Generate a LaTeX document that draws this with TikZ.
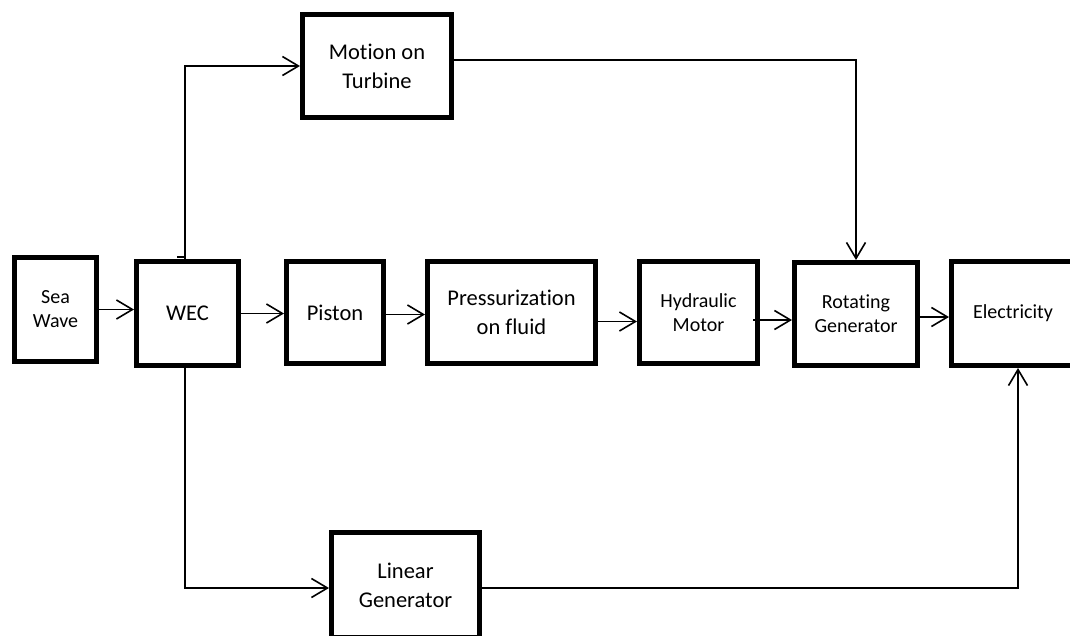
\documentclass[tikz,border=0pt]{standalone}
\usepackage{fontspec}
\setmainfont[Ligatures=NoCommon]{Carlito}
\usetikzlibrary{arrows.meta,calc}
\tikzset{
  box/.style={draw, line width=5pt, rectangle, align=center, inner sep=0pt},
  bigtext/.style={font=\fontsize{22.5}{29}\selectfont},
  smalltext/.style={font=\fontsize{20}{24}\selectfont},
  conn/.style={line width=1.6pt},
  arr/.style={conn, -{Straight Barb[length=16pt,width=19pt,line width=1.6pt]}}
}
\begin{document}
\begin{tikzpicture}[x=1pt,y=-1pt]
  \useasboundingbox (0,0) rectangle (1070,635);
  \clip (0,0) rectangle (1070,635);

  % main chain of blocks
  \node[box,smalltext,minimum width=82pt,minimum height=104pt] (sea) at (55.5,309.5) {Sea\\Wave};
  \node[box,bigtext,minimum width=102pt,minimum height=104pt] (wec) at (187.5,313.5) {WEC};
  \node[box,bigtext,minimum width=97pt,minimum height=102pt] (piston) at (335,312.5) {Piston};
  \node[box,bigtext,minimum width=168pt,minimum height=102pt] (press) at (511.5,312.5) {Pressurization\\on fluid};
  \node[box,smalltext,minimum width=118pt,minimum height=102pt] (hyd) at (698.5,312.5) {Hydraulic\\Motor};
  \node[box,smalltext,minimum width=123pt,minimum height=103pt] (rot) at (856,314) {Rotating\\Generator};
  \node[box,smalltext,minimum width=123pt,minimum height=104pt] (elec) at (1013,313.5) {Electricity};

  % upper and lower branches
  \node[box,bigtext,minimum width=149pt,minimum height=103pt] (motion) at (377,66) {Motion on\\Turbine};
  \node[box,bigtext,minimum width=148pt,minimum height=105pt] (linear) at (405.5,585) {Linear\\Generator};

  % arrows along the main chain
  \draw[arr] (sea.east) -- (sea.east -| wec.west);
  \draw[arr] (wec.east) -- (wec.east -| piston.west);
  \draw[arr] ([yshift=-2pt]piston.east) -- ([yshift=-2pt]piston.east -| press.west);
  \draw[arr] ([yshift=-9pt]press.east) -- ([yshift=-9pt]press.east -| hyd.west);
  \draw[arr] ([yshift=-7.5pt,xshift=-7pt]hyd.east) -- ([yshift=-7.5pt]hyd.east -| rot.west);
  \draw[arr] ([yshift=-3pt]rot.east) -- ([yshift=-3pt]rot.east -| elec.west);

  % turbine branch
  \draw[conn] ($(wec.north)+(-10.5,-2)$) -- ($(wec.north)+(-2.5,-2)$);
  \draw[arr] ([xshift=-2.5pt]wec.north) |- (motion.west);
  \draw[arr] ([yshift=6pt]motion.east) -| (rot.north);

  % linear generator branch
  \draw[arr] ([xshift=-2.5pt]wec.south) |- ([yshift=-3pt]linear.west);
  \draw[arr] ([yshift=-3pt]linear.east) -| ([xshift=5pt]elec.south);
\end{tikzpicture}
\end{document}
